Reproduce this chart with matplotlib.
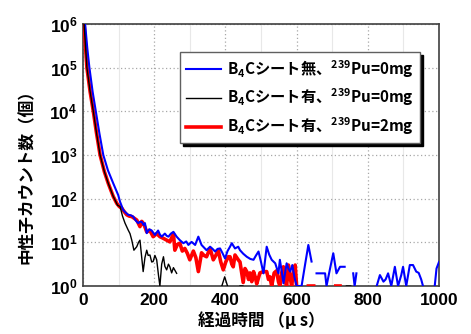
import numpy as np
import matplotlib
matplotlib.use('Agg')
import matplotlib.pyplot as plt
from matplotlib.ticker import MultipleLocator, LogLocator, NullLocator

plt.rcParams['font.family'] = ['Liberation Sans', 'Noto Sans CJK JP']
plt.rcParams['mathtext.default'] = 'regular'

nan = np.nan

# elapsed time (us) and log10(counts); nan = gap (zero counts)
blue_t = [6, 12, 18, 27, 36, 46, 57, 70, 85, 99, 104, 113, 120, 127, 134, 141, 148, 155,
          160, 165, 170, 174, 179, 186, 193, 202, 211, 216, 221, 230, 235, 240, 247, 254,
          263, 272, 282, 290, 296, 305, 315, 324, 333, 340, 347, 357, 364, 371, 378, 385,
          392, 399, 406, 413, 418, 427, 436, 441, 450, 460, 470, 479, 486, 493, 500, 507,
          516, 523, 530, 540, 549, 553, 558, 563, 572, 577, 582, 588, 594, 600, 607, 614,
          624, 633, 642, 649, 656, 668, 680, 684, 694, 703, 712, 722, 735, 747, 759, 763,
          768, 790, 825, 834, 844, 850, 857, 866, 876, 885, 894, 899, 908, 918, 927, 936,
          943, 950, 955, 970, 988, 993, 1000]
blue_log = [6.0, 5.45, 5.0, 4.45, 4.0, 3.5, 3.0, 2.65, 2.35, 2.08, 1.93, 1.74, 1.68, 1.63,
            1.62, 1.59, 1.50, 1.44, 1.47, 1.47, 1.40, 1.44, 1.21, 1.30, 1.27, 1.17, 1.27,
            1.18, 1.13, 1.20, 1.15, 1.13, 1.20, 1.24, 1.13, 1.05, 0.98, 1.02, 0.94, 1.01,
            0.94, 1.13, 0.94, 0.88, 0.82, 0.90, 0.85, 0.79, 0.85, 0.86, 0.75, 0.63, 0.80,
            0.90, 0.98, 0.86, 0.90, 0.82, 0.74, 0.67, 0.62, 0.60, 0.70, 0.79, 0.55, 0.29,
            0.90, 0.72, 0.60, 0.52, 0.29, 0.60, 0.35, 0.06, 0.52, 0.40, 0.33, 0.48, 0.20,
            0.0, 0.0, 0.0, 0.50, 0.94, 0.56, nan, 0.29, 0.29, 0.29, 0.0, 0.40, 0.75, 0.29,
            0.44, 0.44, nan, 0.29, 0.0, 0.29, nan, 0.0, 0.25, 0.10, 0.15, 0.29, 0.0, 0.44,
            0.0, 0.25, 0.44, 0.0, 0.48, 0.48, 0.33, 0.30, 0.15, 0.0, nan, 0.0, 0.40, 0.55]

black_t = [3, 7, 11, 20, 29, 38, 48, 60, 71, 85, 97, 104, 111, 118, 127, 132, 137, 143,
           151, 156, 160, 169, 174, 179, 183, 188, 193, 197, 202, 207, 212, 216, 221, 226,
           230, 235, 240, 244, 249, 254, 263, 320, 390, 398, 406, 420, 441, 449, 600,
           740, 752]
black_log = [6.0, 5.5, 5.0, 4.45, 4.0, 3.5, 3.0, 2.62, 2.35, 2.05, 1.85, 1.82, 1.60, 1.44,
             1.28, 1.20, 1.05, 0.82, 0.90, 1.0, 1.05, 0.33, 0.65, 0.82, 0.70, 0.71, 0.55,
             0.56, 0.70, 0.60, 0.25, 0.0, 0.50, 0.67, 0.45, 0.37, 0.50, 0.44, 0.30, 0.42,
             0.29, nan, 0.0, 0.21, 0.0, nan, 0.0, 0.0, nan, 0.0, 0.0]

red_t = [3, 7, 11, 20, 29, 38, 48, 60, 71, 85, 95, 102, 109, 116, 123, 130, 137, 144, 151,
         160, 165, 169, 174, 179, 188, 197, 207, 216, 226, 235, 244, 254, 258, 265, 272,
         279, 286, 293, 300, 310, 317, 324, 333, 340, 347, 357, 366, 373, 380, 387, 394,
         401, 408, 413, 418, 422, 427, 436, 441, 450, 455, 460, 465, 469, 474, 479, 484,
         488, 497, 507, 516, 521, 525, 530, 537, 544, 549, 553, 558, 563, 567, 572, 577,
         582, 586, 591, 596, 600, 615, 633, 648, 680, 710, 722]
red_log = [6.0, 5.5, 5.0, 4.45, 4.0, 3.5, 3.0, 2.62, 2.35, 2.05, 1.89, 1.82, 1.78, 1.70,
           1.63, 1.60, 1.59, 1.55, 1.51, 1.36, 1.48, 1.44, 1.35, 1.24, 1.27, 1.13, 1.20,
           1.13, 1.09, 1.05, 1.01, 1.20, 0.82, 0.95, 0.98, 0.80, 0.86, 0.75, 0.60, 0.80,
           0.65, 0.33, 0.76, 0.70, 0.67, 0.86, 0.60, 0.70, 0.82, 0.55, 0.37, 0.55, 0.67,
           0.67, 0.50, 0.44, 0.71, 0.60, 0.55, 0.08, 0.40, 0.33, 0.15, 0.30, 0.10, 0.33,
           0.20, 0.05, 0.30, 0.33, 0.33, 0.15, 0.21, 0.0, 0.30, 0.35, 0.10, 0.0, 0.30,
           0.44, 0.15, 0.0, 0.48, 0.20, 0.0, 0.30, 0.48, 0.0, nan, 0.0, 0.0, nan, 0.0, 0.0]

labels = ['B$_4$Cシート無、$^{239}$Pu=0mg',
          'B$_4$Cシート有、$^{239}$Pu=0mg',
          'B$_4$Cシート有、$^{239}$Pu=2mg']

fig = plt.figure(figsize=(4.71, 3.34), dpi=100)
ax = fig.add_axes([83 / 471, 1 - 286 / 334, 356 / 471, 262 / 334])

ax.set_yscale('log')
ax.set_xlim(0, 1000)
ax.set_ylim(1, 1e6)

# grid (dotted major, faint minor vertical lines)
ax.xaxis.set_major_locator(MultipleLocator(200))
ax.xaxis.set_minor_locator(MultipleLocator(100))
ax.yaxis.set_major_locator(LogLocator(base=10, numticks=10))
ax.yaxis.set_minor_locator(NullLocator())
ax.grid(True, which='major', color='#a8a8a8', linestyle=(0, (1, 2)), linewidth=0.9)
ax.grid(True, which='minor', axis='x', color='#e8e8e8', linestyle='-', linewidth=0.8)
ax.set_axisbelow(True)

l_red, = ax.plot(red_t, 10 ** np.array(red_log), color='#ff0000', lw=2.6, zorder=3)
l_blue, = ax.plot(blue_t, 10 ** np.array(blue_log), color='#0000ff', lw=1.5, zorder=4)
l_black, = ax.plot(black_t, 10 ** np.array(black_log), color='black', lw=1.0, zorder=5)

for s in ax.spines.values():
    s.set_color('#404040')
    s.set_linewidth(1.2)

ax.tick_params(which='both', direction='in', length=0, labelsize=12.5, pad=5)
ax.tick_params(axis='y', pad=4)
for lab in ax.get_xticklabels() + ax.get_yticklabels():
    lab.set_fontweight('bold')

leg = ax.legend([l_blue, l_black, l_red], labels, loc='upper right',
                bbox_to_anchor=(0.947, 0.893), borderaxespad=0,
                prop=dict(family='Noto Sans CJK JP', weight='bold', size=11),
                handlelength=2.3, handletextpad=0.4, labelspacing=0.45,
                fancybox=False, framealpha=1, edgecolor='#606060',
                shadow={'color': 'black', 'alpha': 1})
leg.get_frame().set_linewidth(1.0)

fig.text(27 / 471, 1 - 173 / 334, '中性子カウント数（個）', rotation=90, ha='center',
         va='center', fontsize=12, fontweight='bold', family='Noto Sans CJK JP')
fig.text(261 / 471, 1 - 321 / 334, '経過時間 （μ s）', ha='center', va='center',
         fontsize=12, fontweight='bold', family='Noto Sans CJK JP')

fig.savefig('out.png', dpi=100)
